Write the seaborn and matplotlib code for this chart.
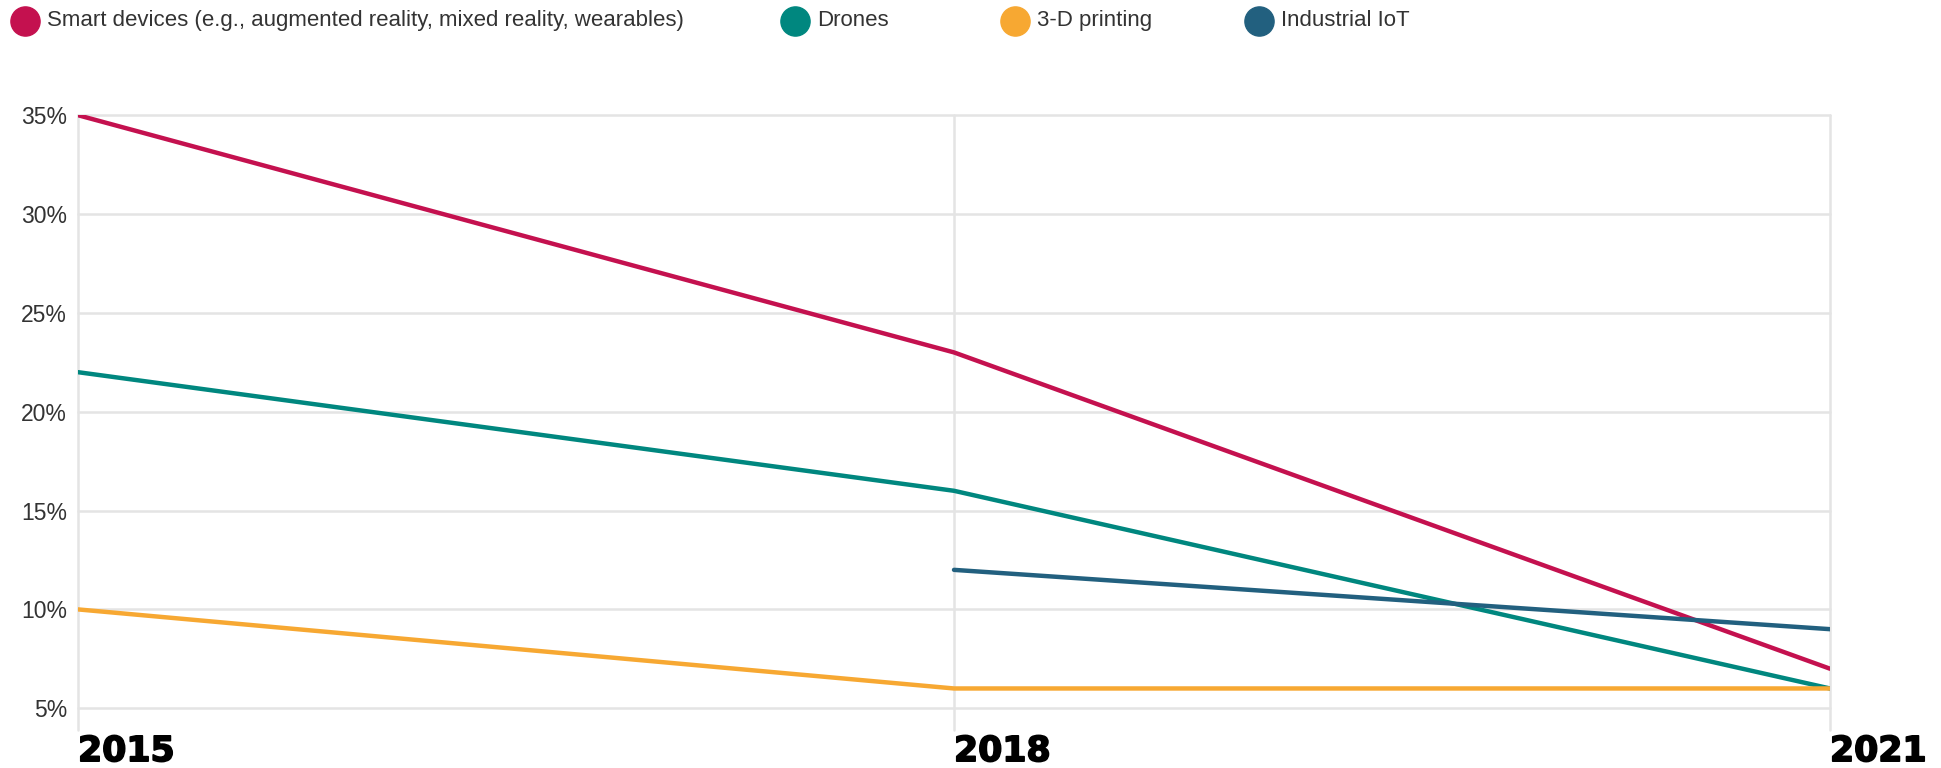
import numpy as np
import pandas as pd

import matplotlib
matplotlib.use("Agg")
import matplotlib.pyplot as plt
import matplotlib.patheffects as pe
import seaborn as sns
from matplotlib.lines import Line2D

# data
years = [2015, 2018, 2021]

series_names = [
    "Smart devices (e.g., augmented reality, mixed reality, wearables)",
    "Drones",
    "3-D printing",
    "Industrial IoT",
]

smart_devices = [35, 23, 7]
drones = [22, 16, 6]
printing_3d = [10, 6, 6]
industrial_iot = [np.nan, 12, 9]

colors = ["#C4114F", "#00877F", "#F7A832", "#22607F"]

y_ticks = [5, 10, 15, 20, 25, 30, 35]

# long-form table for seaborn
frames = []
for name, values in zip(
    series_names,
    [smart_devices, drones, printing_3d, industrial_iot]
):
    frames.append(pd.DataFrame({
        "Year": years,
        "Share": values,
        "Series": name
    }))

df = pd.concat(frames).dropna()

sns.set_style("white")
plt.rcParams["font.family"] = ["Liberation Sans", "DejaVu Sans"]

fig = plt.figure(figsize=(19.41, 7.68), dpi=100)

ax = fig.add_axes([0.0402, 0.0495, 0.9026, 0.8005])

sns.lineplot(
    data=df,
    x="Year",
    y="Share",
    hue="Series",
    hue_order=series_names,
    palette=colors,
    linewidth=3.2,
    legend=False,
    ax=ax
)

ax.set_xlim(2015, 2021)
ax.set_ylim(3.9, 35)

ax.set_yticks(y_ticks)
ax.set_yticklabels([f"{t}%" for t in y_ticks])
ax.set_xticks(years)
ax.set_xticklabels([str(y) for y in years])

for label in ax.get_xticklabels():
    label.set_horizontalalignment("left")
    label.set_fontfamily("DejaVu Sans")
    label.set_fontweight("heavy")
    label.set_fontsize(25)
    label.set_color("black")
    label.set_path_effects([pe.withStroke(linewidth=1.2, foreground="black")])

ax.tick_params(axis="y", length=0, pad=8, labelsize=16.5, labelcolor="#333333")
ax.tick_params(axis="x", length=0, pad=3)

ax.set_xlabel("")
ax.set_ylabel("")

for spine in ax.spines.values():
    spine.set_visible(False)

ax.grid(True, color="#e4e4e4", linewidth=1.8)
ax.set_axisbelow(True)
for line in ax.get_xgridlines() + ax.get_ygridlines():
    line.set_clip_on(False)

# legend laid out by hand to match the uneven spacing
legend_x = [0.0129, 0.4096, 0.5230, 0.6486]
legend_y = 0.973

for x, name, c in zip(legend_x, series_names, colors):
    fig.add_artist(Line2D(
        [x], [legend_y],
        transform=fig.transFigure,
        linestyle="none",
        marker="o",
        markersize=21,
        markerfacecolor=c,
        markeredgecolor=c
    ))
    fig.text(
        x + 0.0112,
        legend_y,
        name,
        ha="left",
        va="center",
        fontsize=16,
        color="#333333"
    )

fig.savefig("out.png", dpi=100)
